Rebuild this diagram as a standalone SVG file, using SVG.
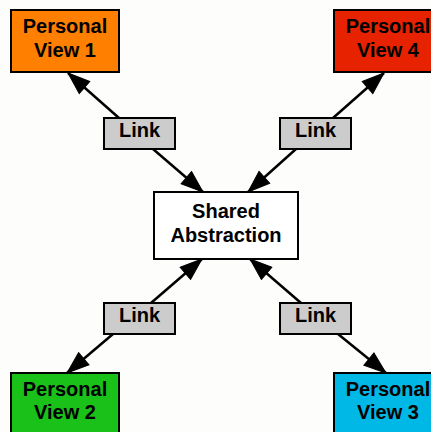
<svg xmlns="http://www.w3.org/2000/svg" width="431" height="432" viewBox="0 0 431 432">
<style>
.box{stroke:#000;stroke-width:2}
.t{font-family:"Liberation Sans",Arial,sans-serif;font-weight:bold;font-size:20px;text-anchor:middle;fill:#000}
.e{stroke:#000;stroke-width:2.5;fill:none;marker-end:url(#ah)}
</style>
<defs>
<marker id="ah" markerUnits="userSpaceOnUse" markerWidth="26" markerHeight="18" refX="22" refY="8" orient="auto" viewBox="-1 -1 26 18">
<path d="M0,0 L22,8 L0,16 z" fill="#000" stroke="#000" stroke-width="1" stroke-linejoin="miter"/>
</marker>
</defs>
<rect width="431" height="432" fill="#fdfdfc"/>
<g id="connectors">
<line class="e" x1="119" y1="118" x2="68" y2="73"/>
<line class="e" x1="153" y1="149" x2="203" y2="192"/>
<line class="e" x1="333" y1="118" x2="384" y2="73"/>
<line class="e" x1="296" y1="149" x2="248" y2="192"/>
<line class="e" x1="151" y1="303" x2="202" y2="259"/>
<line class="e" x1="113" y1="334" x2="67" y2="373"/>
<line class="e" x1="301" y1="303" x2="250" y2="259"/>
<line class="e" x1="338" y1="334" x2="386" y2="373"/>
</g>
<g id="pv1">
<rect class="box" x="11" y="10" width="108" height="62" fill="#ff7f00"/>
<text class="t" x="65" y="33">Personal</text>
<text class="t" x="65" y="57">View 1</text>
</g>
<g id="pv4">
<rect class="box" x="334" y="10" width="108" height="62" fill="#e62200"/>
<text class="t" x="388" y="33">Personal</text>
<text class="t" x="388" y="57">View 4</text>
</g>
<g id="pv2">
<rect class="box" x="11" y="373" width="108" height="62" fill="#19c119"/>
<text class="t" x="65" y="396">Personal</text>
<text class="t" x="65" y="419">View 2</text>
</g>
<g id="pv3">
<rect class="box" x="334" y="373" width="108" height="62" fill="#00b8e6"/>
<text class="t" x="388" y="396">Personal</text>
<text class="t" x="388" y="419">View 3</text>
</g>
<g id="link1">
<rect class="box" x="104" y="118" width="71" height="31" fill="#cccccc"/>
<text class="t" x="139.5" y="137">Link</text>
</g>
<g id="link4">
<rect class="box" x="280" y="118" width="71" height="31" fill="#cccccc"/>
<text class="t" x="315.5" y="137">Link</text>
</g>
<g id="link2">
<rect class="box" x="104" y="303" width="71" height="31" fill="#cccccc"/>
<text class="t" x="139.5" y="322">Link</text>
</g>
<g id="link3">
<rect class="box" x="280" y="303" width="71" height="31" fill="#cccccc"/>
<text class="t" x="315.5" y="322">Link</text>
</g>
<g id="shared">
<rect class="box" x="154" y="192" width="144" height="67" fill="#ffffff"/>
<text class="t" x="226" y="218">Shared</text>
<text class="t" x="226" y="242">Abstraction</text>
</g>
</svg>
